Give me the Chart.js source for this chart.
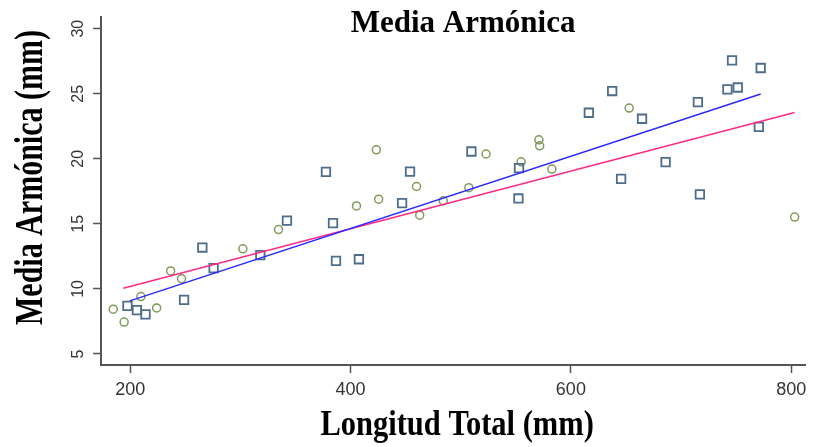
<!DOCTYPE html>
<html>
<head>
<meta charset="utf-8">
<script src="https://cdn.jsdelivr.net/npm/chart.js@4.4.1/dist/chart.umd.min.js"></script>
<style>
  body { margin: 0; background: #fff; }
  #wrap { width: 813px; height: 447px; }
</style>
</head>
<body>
<div id="wrap"><canvas id="mediaChart"></canvas></div>
<script>
// squares (grupo 1)
var sqLongitud = [197.5, 206.1, 213.9, 248.9, 265.5, 275.7, 318.1, 342.3, 377.7, 384.1, 386.8, 407.6, 446.8, 454.0, 509.7,
                  552.4, 552.9, 616.3, 637.5, 645.6, 664.6, 686.0, 715.3, 717.1, 742.1, 751.5, 746.3, 772.3, 770.6];
var sqMedia    = [8.69, 8.37, 8.04, 9.15, 13.18, 11.6, 12.59, 15.25, 19.0, 15.05, 12.15, 12.28, 16.59, 19.02, 20.56,
                  16.95, 19.28, 23.54, 25.21, 18.46, 23.08, 19.75, 24.35, 17.27, 25.33, 25.48, 27.56, 26.98, 22.46];
// circles (grupo 2)
var ciLongitud = [184.6, 194.5, 209.7, 224.0, 236.7, 246.6, 302.3, 334.6, 405.4, 423.4, 425.5, 459.9, 462.8, 484.2,
                  507.4, 523.0, 554.9, 571.0, 571.7, 582.8, 652.9, 803.1];
var ciMedia    = [8.44, 7.45, 9.41, 8.54, 11.38, 10.78, 13.08, 14.56, 16.38, 20.69, 16.9, 17.87, 15.67, 16.77,
                  17.78, 20.37, 19.77, 21.46, 21.0, 19.21, 23.9, 15.52];
// fitted lines (end points)
var fitBlueX = [199.7, 772.3];
var fitBlueY = [9.08, 24.98];
var fitPinkX = [193.7, 803.1];
var fitPinkY = [10.05, 23.56];

var xTicks = [200, 400, 600, 800];
var yTicks = [5, 10, 15, 20, 25, 30];

var chartTitle = 'Media Armónica';
var xTitle = 'Longitud Total (mm)';
var yTitle = 'Media Armónica (mm)';

function pts(xs, ys) {
  return xs.map(function (x, i) { return { x: x, y: ys[i] }; });
}

// titles drawn by hand so they can sit over the plot and be stretched like the original
var titlePlugin = {
  id: 'titles',
  afterDraw: function (chart) {
    var ctx = chart.ctx, area = chart.chartArea;
    var cx = (area.left + area.right) / 2;
    ctx.save();
    ctx.fillStyle = '#000';
    ctx.textAlign = 'center';
    ctx.textBaseline = 'alphabetic';

    ctx.font = 'bold 31px "Liberation Serif", "Times New Roman", serif';
    ctx.fillText(chartTitle, cx + 10, 32);

    ctx.save();
    ctx.font = 'bold 30.5px "Liberation Serif", "Times New Roman", serif';
    ctx.translate(cx + 4, 435);
    ctx.scale(1, 1.15);
    ctx.fillText(xTitle, 0, 0);
    ctx.restore();

    ctx.save();
    ctx.font = 'bold 30px "Liberation Serif", "Times New Roman", serif';
    ctx.translate(42, 177.5);
    ctx.rotate(-Math.PI / 2);
    ctx.scale(1, 1.33);
    ctx.fillText(yTitle, 0, 0);
    ctx.restore();

    ctx.restore();
  }
};

var ctx = document.getElementById('mediaChart');
var mediaChart = new Chart(ctx, {
  type: 'scatter',
  data: {
    datasets: [{
      label: 'Ajuste 1',
      type: 'line',
      data: pts(fitBlueX, fitBlueY),
      borderColor: '#2828ff',
      borderWidth: 1.5,
      pointRadius: 0,
      fill: false,
      order: 1
    }, {
      label: 'Ajuste 2',
      type: 'line',
      data: pts(fitPinkX, fitPinkY),
      borderColor: '#ff2a85',
      borderWidth: 1.5,
      pointRadius: 0,
      fill: false,
      order: 2
    }, {
      label: 'Grupo 1',
      data: pts(sqLongitud, sqMedia),
      pointStyle: 'rect',
      pointRadius: 6,
      borderColor: '#4d6d8c',
      backgroundColor: 'rgba(0,0,0,0)',
      borderWidth: 1.8,
      order: 3
    }, {
      label: 'Grupo 2',
      data: pts(ciLongitud, ciMedia),
      pointStyle: 'circle',
      pointRadius: 4,
      borderColor: '#809a58',
      backgroundColor: 'rgba(0,0,0,0)',
      borderWidth: 1.5,
      order: 4
    }]
  },
  options: {
    responsive: true,
    maintainAspectRatio: false,
    animation: false,
    layout: {
      padding: { left: 0, right: 5, top: 17, bottom: 0 }
    },
    plugins: {
      legend: { display: false },
      tooltip: { enabled: false },
      title: { display: false }
    },
    scales: {
      x: {
        type: 'linear',
        min: 173.5,
        max: 812.7,
        afterFit: function (s) { s.height = 82; },
        afterBuildTicks: function (s) { s.ticks = xTicks.map(function (v) { return { value: v }; }); },
        border: { display: true, color: '#555', width: 2 },
        grid: { drawOnChartArea: false, drawTicks: true, tickLength: 8, tickColor: '#555', tickWidth: 1.5 },
        ticks: {
          color: '#333',
          padding: 6,
          maxRotation: 0,
          font: { family: '"Liberation Sans", Arial, sans-serif', size: 18 }
        }
      },
      y: {
        type: 'linear',
        min: 4.15,
        max: 30.9,
        afterFit: function (s) { s.width = 101; },
        afterBuildTicks: function (s) { s.ticks = yTicks.map(function (v) { return { value: v }; }); },
        border: { display: true, color: '#555', width: 2 },
        grid: { drawOnChartArea: false, drawTicks: true, tickLength: 8, tickColor: '#555', tickWidth: 1.5 },
        ticks: {
          color: '#333',
          padding: 6,
          minRotation: 90,
          maxRotation: 90,
          crossAlign: 'center',
          font: { family: '"Liberation Sans", Arial, sans-serif', size: 16 }
        }
      }
    }
  },
  plugins: [titlePlugin]
});
</script>
</body>
</html>
